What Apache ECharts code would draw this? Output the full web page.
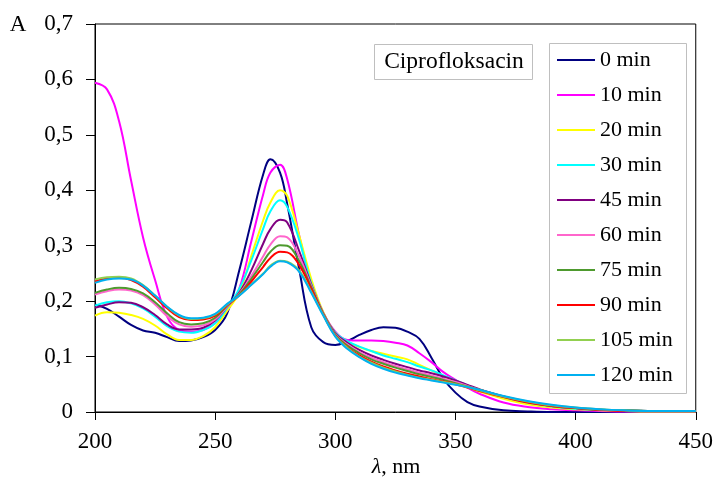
<!DOCTYPE html>
<html>
<head>
<meta charset="utf-8">
<script src="https://cdn.jsdelivr.net/npm/echarts@6/dist/echarts.min.js"></script>
<style>html,body{margin:0;padding:0;background:#fff}#c{width:716px;height:481px}</style>
</head>
<body>
<div id="c"></div>
<script>
const wavelengths = [200,205,210,215,220,225,230,235,240,245,250,255,260,265,270,273,277,280,285,290,295,300,305,310,315,320,325,330,335,340,345,350,355,360,370,380,390,400,410,420,430,440,450];

const seriesNames = ['0 min','10 min','20 min','30 min','45 min','60 min','75 min','90 min','105 min','120 min'];

const a0 = [0.194,0.186,0.172,0.157,0.147,0.143,0.135,0.128,0.129,0.135,0.148,0.178,0.255,0.343,0.429,0.456,0.432,0.375,0.257,0.153,0.126,0.121,0.128,0.139,0.148,0.153,0.152,0.145,0.132,0.098,0.060,0.035,0.018,0.010,0.003,0.001,0,0,0,0,0,0,0];
const a10 = [0.594,0.582,0.525,0.418,0.315,0.238,0.172,0.148,0.145,0.148,0.160,0.183,0.222,0.307,0.393,0.432,0.446,0.420,0.318,0.232,0.179,0.145,0.130,0.129,0.129,0.128,0.125,0.120,0.106,0.090,0.072,0.058,0.044,0.033,0.017,0.009,0.005,0.003,0.002,0.001,0.001,0.001,0.001];
const a20 = [0.174,0.180,0.179,0.175,0.168,0.156,0.140,0.130,0.130,0.137,0.153,0.183,0.215,0.281,0.346,0.378,0.400,0.390,0.318,0.240,0.180,0.143,0.127,0.117,0.110,0.105,0.100,0.095,0.085,0.075,0.065,0.055,0.045,0.037,0.024,0.014,0.008,0.005,0.003,0.002,0.001,0.001,0.001];
const a30 = [0.192,0.198,0.200,0.196,0.187,0.172,0.155,0.145,0.143,0.148,0.160,0.188,0.222,0.273,0.331,0.362,0.382,0.370,0.310,0.232,0.178,0.143,0.128,0.118,0.110,0.102,0.096,0.090,0.082,0.075,0.066,0.057,0.048,0.040,0.027,0.017,0.010,0.006,0.004,0.003,0.002,0.002,0.002];
const a45 = [0.188,0.194,0.198,0.197,0.189,0.175,0.158,0.149,0.149,0.152,0.165,0.190,0.215,0.255,0.304,0.330,0.347,0.342,0.290,0.230,0.178,0.142,0.125,0.112,0.102,0.094,0.087,0.081,0.075,0.070,0.064,0.057,0.049,0.041,0.028,0.018,0.011,0.007,0.004,0.003,0.002,0.002,0.002];
const a60 = [0.212,0.218,0.221,0.219,0.211,0.194,0.173,0.158,0.154,0.156,0.167,0.190,0.213,0.245,0.281,0.302,0.317,0.315,0.280,0.228,0.178,0.140,0.122,0.108,0.098,0.090,0.083,0.077,0.071,0.066,0.060,0.054,0.047,0.040,0.028,0.018,0.011,0.007,0.004,0.002,0.002,0.002,0.002];
const a75 = [0.215,0.221,0.224,0.222,0.214,0.198,0.178,0.162,0.158,0.160,0.170,0.192,0.212,0.240,0.271,0.289,0.301,0.300,0.272,0.225,0.177,0.139,0.120,0.106,0.095,0.087,0.080,0.074,0.068,0.063,0.058,0.052,0.046,0.040,0.028,0.018,0.011,0.007,0.004,0.003,0.002,0.002,0.002];
const a90 = [0.236,0.241,0.242,0.238,0.226,0.207,0.187,0.171,0.166,0.167,0.174,0.193,0.210,0.235,0.262,0.278,0.289,0.288,0.265,0.222,0.176,0.138,0.117,0.102,0.091,0.082,0.075,0.069,0.064,0.059,0.055,0.050,0.044,0.038,0.027,0.017,0.011,0.007,0.004,0.002,0.002,0.002,0.002];
const a105 = [0.239,0.243,0.244,0.241,0.229,0.210,0.190,0.174,0.168,0.169,0.176,0.194,0.210,0.230,0.250,0.264,0.273,0.271,0.255,0.217,0.175,0.137,0.116,0.100,0.089,0.080,0.073,0.067,0.062,0.058,0.054,0.050,0.045,0.039,0.028,0.019,0.012,0.008,0.005,0.003,0.002,0.002,0.002];
const a120 = [0.233,0.239,0.241,0.239,0.228,0.210,0.190,0.175,0.169,0.170,0.177,0.195,0.210,0.229,0.249,0.262,0.272,0.270,0.253,0.215,0.174,0.136,0.114,0.099,0.087,0.078,0.071,0.066,0.061,0.057,0.053,0.049,0.045,0.040,0.029,0.020,0.013,0.008,0.005,0.003,0.002,0.002,0.002];

const colors = ['#000080','#FF00FF','#FFFF00','#00FFFF','#800080','#FF66CC','#4E9A2E','#FF0000','#92D050','#00B0F0'];
const yTicks = ['0','0,1','0,2','0,3','0,4','0,5','0,6','0,7'];

const allValues = [a0,a10,a20,a30,a45,a60,a75,a90,a105,a120];
const FONT = 'Liberation Serif';

const series = allValues.map((vals, i) => ({
  name: seriesNames[i],
  type: 'line',
  smooth: 0.4,
  symbol: 'none',
  lineStyle: { color: colors[i], width: 2 },
  itemStyle: { color: colors[i] },
  data: wavelengths.map((w, j) => [w, vals[j]])
}));

const chart = echarts.init(document.getElementById('c'), null, { renderer: 'canvas' });
chart.setOption({
  animation: false,
  backgroundColor: '#fff',
  grid: { left: 95, right: 20, top: 24, bottom: 69, show: true, borderColor: '#000', borderWidth: 1 },
  xAxis: {
    type: 'value', min: 200, max: 450, interval: 50,
    axisLine: { lineStyle: { color: '#000', width: 1 } },
    axisTick: { show: true, inside: false, length: 8, lineStyle: { color: '#000' } },
    axisLabel: { margin: 18, color: '#000', fontFamily: FONT, fontSize: 23 },
    splitLine: { show: false }
  },
  yAxis: {
    type: 'value', min: 0, max: 0.7, interval: 0.1,
    axisLine: { show: true, lineStyle: { color: '#000', width: 1 } },
    axisTick: { show: true, inside: false, length: 9, lineStyle: { color: '#000' } },
    axisLabel: { margin: 22, color: '#000', fontFamily: FONT, fontSize: 23,
      formatter: (v) => yTicks[Math.round(v * 10)] },
    splitLine: { show: false }
  },
  legend: {
    orient: 'vertical', left: 557, top: 49, padding: 0,
    icon: 'rect', itemWidth: 38, itemHeight: 2, itemGap: 13,
    textStyle: { fontFamily: FONT, fontSize: 22, color: '#000', lineHeight: 22, padding: [0, 0, 0, 0] },
    data: seriesNames
  },
  graphic: [
    { type: 'rect', shape: { x: 549.5, y: 43.5, width: 137, height: 350 }, style: { fill: 'rgba(0,0,0,0)', stroke: '#bfbfbf', lineWidth: 1 }, z: 1 },
    { type: 'rect', shape: { x: 374.5, y: 44.5, width: 158, height: 35 }, style: { fill: '#fff', stroke: '#bfbfbf', lineWidth: 1 }, z: 1 },
    { type: 'text', x: 454, y: 62, style: { text: 'Ciprofloksacin', font: '23.5px "Liberation Serif"', fill: '#000', align: 'center', verticalAlign: 'middle' }, z: 2 },
    { type: 'text', x: 18, y: 25, style: { text: 'A', font: '23px "Liberation Serif"', fill: '#000', align: 'center', verticalAlign: 'middle' }, z: 2 },
    { type: 'text', x: 396, y: 467, style: { text: '{i|λ}, nm', font: '22px "Liberation Serif"', fill: '#000', align: 'center', verticalAlign: 'middle',
        rich: { i: { fontStyle: 'italic', fontFamily: FONT, fontSize: 22, fill: '#000' } } }, z: 2 }
  ],
  series: series
});
</script>
</body>
</html>
